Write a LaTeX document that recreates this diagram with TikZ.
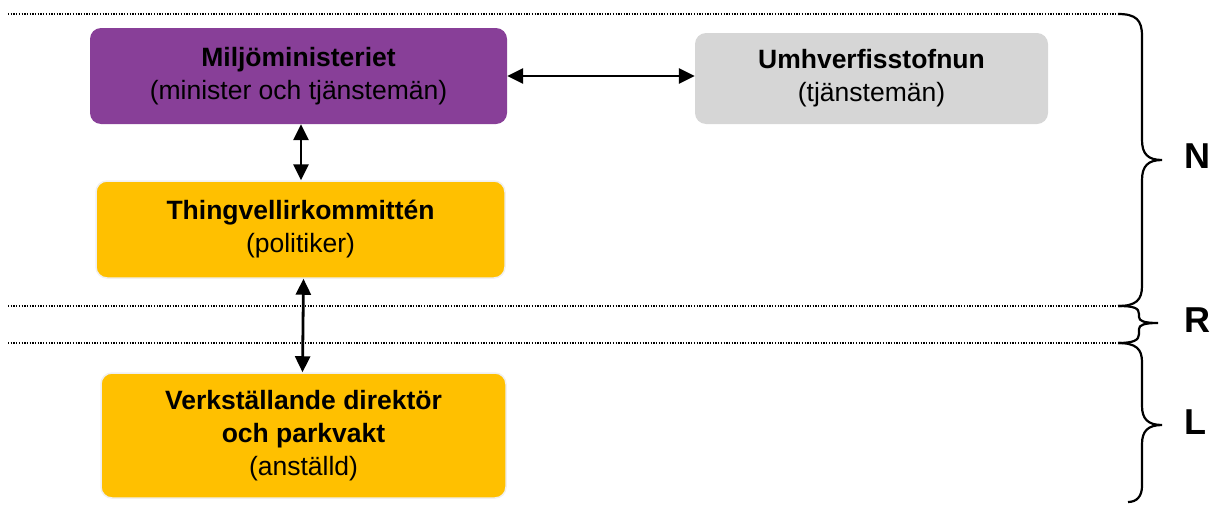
\documentclass[tikz,border=0pt]{standalone}
\usepackage{fontspec}
\setmainfont{Liberation Sans}
\usetikzlibrary{arrows.meta}
\definecolor{mpurple}{HTML}{883F98}
\definecolor{mgray}{HTML}{D6D6D6}
\definecolor{myellow}{HTML}{FFC000}
\tikzset{
  box/.style={rounded corners=11pt, inner sep=0pt, align=center,
    font=\fontsize{26.5}{33}\selectfont},
  ybox/.style={box, fill=myellow, draw=black!6, line width=1.5pt},
  arr/.style={line width=2.8pt, {Triangle[length=16pt,width=15pt]}-{Triangle[length=16pt,width=15pt]}},
  dotline/.style={line width=1.3pt, dash pattern=on 1.3pt off 1.4pt},
  bracepath/.style={line width=2.2pt},
  lvl/.style={font=\fontsize{36}{36}\selectfont\bfseries, anchor=west, inner sep=0pt}
}
\begin{document}
\begin{tikzpicture}[x=1pt,y=-1pt]
\useasboundingbox (0,0) rectangle (1220,506);
% dotted level lines
\coordinate (d1a) at (8,14);   \coordinate (d1b) at (1118,14);
\coordinate (d2a) at (8,306);  \coordinate (d2b) at (1118,306);
\coordinate (d3a) at (8,343);  \coordinate (d3b) at (1118,343);
\draw[dotline] (d1a) -- (d1b);
\draw[dotline] (d2a) -- (d2b);
\draw[dotline] (d3a) -- (d3b);
% boxes
\node[box, fill=mpurple, minimum width=417pt, minimum height=96pt] (mm) at (298.5,76)
  {\textbf{Miljöministeriet}\\(minister och tjänstemän)};
\node[box, fill=mgray, minimum width=353pt, minimum height=91pt] (um) at (871.5,78.5)
  {\textbf{Umhverfisstofnun}\\(tjänstemän)};
\node[ybox, minimum width=409pt, minimum height=97pt] (tk) at (300.5,229.5)
  {\textbf{Thingvellirkommittén}\\(politiker)};
\node[ybox, minimum width=405pt, minimum height=125pt] (vd) at (303.5,435.5)
  {\textbf{Verkställande direktör}\\\textbf{och parkvakt}\\(anställd)};
% connectors
\draw[arr] (mm.east) -- (mm.east -| um.west);
\draw[arr] ([xshift=2.5pt]mm.south) -- ([xshift=2.5pt]mm.south |- tk.north);
\draw[arr] ([xshift=3pt]tk.south) -- ([xshift=-1pt]vd.north);
% braces
\draw[bracepath] (d1b) .. controls (1136,14) and (1142,20) .. (1142,36) -- (1142,140)
  .. controls (1142,154) and (1148,160) .. (1162,160)
  .. controls (1148,160) and (1142,166) .. (1142,180) -- (1142,286)
  .. controls (1142,300) and (1136,306) .. (d2b);
\draw[bracepath] (d2b) .. controls (1134,306) and (1139,308) .. (1139,314) -- (1139,317)
  .. controls (1139,321) and (1144,323) .. (1158,323)
  .. controls (1144,323) and (1139,325) .. (1139,329) -- (1139,334)
  .. controls (1139,340) and (1134,343) .. (d3b);
\draw[bracepath] (d3b) .. controls (1136,343) and (1142,349) .. (1142,362) -- (1142,406)
  .. controls (1142,419) and (1148,425) .. (1162,425)
  .. controls (1148,425) and (1142,431) .. (1142,444) -- (1142,486)
  .. controls (1142,496) and (1137,502) .. (1128,502);
% level labels
\node[lvl] (N) at (1184,156) {N};
\node[lvl] (R) at (1184,320) {R};
\node[lvl] (L) at (1184,422) {L};
\end{tikzpicture}
\end{document}
